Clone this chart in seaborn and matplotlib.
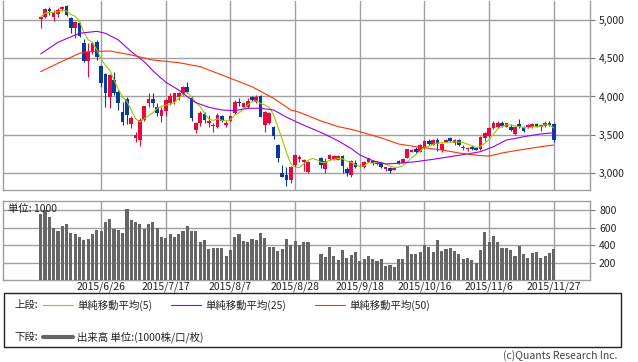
import numpy as np
import pandas as pd
import seaborn as sns
import matplotlib.pyplot as plt
from matplotlib.patches import Rectangle
from matplotlib.lines import Line2D

nan = np.nan

# 日足 OHLC (index 0..119, 63-64 欠損)
opens = [5013, 5043, 5144, 5043, 5078, 5140, 5183, 5022, 4891, 4957,
         4695, 4468, 4586, 4717, 4399, 4294, 3998, 4216, 4063, 3802,
         3964, 3641, 3454, 3432, 3693, 3911, 3964, 3867, 3745, 3815,
         3920, 3933, 3990, 4042, 4128, 3976, 3562, 3650, 3771, 3650,
         3615, 3606, 3745, 3628, 3684, 3780, 3933, 3867, 3859, 3989,
         3933, 4007, 3628, 3650, 3606, 3366, 2996, 2974, 2909, 3105,
         3179, 3148, 3018, nan, nan, 3190, 3048, 3179, 3179, 3170,
         3222, 3048, 2974, 3135, 3100, 3075, 3148, 3160, 3120, 3135,
         3050, 3070, 3045, 3157, 3135, 3200, 3279, 3310, 3279, 3345,
         3418, 3366, 3431, 3301, 3410, 3453, 3388, 3431, 3330, 3310,
         3336, 3323, 3314, 3455, 3488, 3585, 3606, 3650, 3606, 3606,
         3510, 3640, 3597, 3597, 3606, 3640, 3606, 3615, 3650, 3640]
highs = [5052, 5160, 5166, 5130, 5152, 5187, 5190, 5043, 4991, 4974,
         4748, 4695, 4710, 4739, 4412, 4303, 4294, 4324, 4085, 3933,
         3998, 3745, 3540, 3715, 3880, 4042, 4042, 3911, 3867, 3964,
         4042, 4050, 4063, 4143, 4194, 4003, 3671, 3811, 3802, 3763,
         3650, 3780, 3763, 3684, 3763, 3955, 3976, 3933, 3976, 4000,
         4020, 4020, 3811, 3800, 3615, 3375, 3105, 3083, 3092, 3249,
         3236, 3179, 3160, nan, nan, 3215, 3196, 3245, 3230, 3230,
         3240, 3074, 3170, 3175, 3120, 3160, 3200, 3175, 3160, 3150,
         3085, 3080, 3070, 3170, 3190, 3320, 3320, 3340, 3380, 3430,
         3450, 3440, 3460, 3390, 3440, 3470, 3440, 3440, 3370, 3340,
         3370, 3340, 3480, 3540, 3600, 3680, 3680, 3680, 3660, 3640,
         3615, 3700, 3620, 3640, 3660, 3660, 3640, 3680, 3680, 3660]
lows = [4895, 5022, 5065, 4990, 5043, 5122, 5052, 4834, 4770, 4774,
        4455, 4259, 4560, 4477, 4128, 3867, 3846, 4020, 3820, 3628,
        3640, 3585, 3410, 3353, 3680, 3867, 3867, 3745, 3671, 3750,
        3889, 3900, 3960, 4020, 4042, 3676, 3527, 3611, 3650, 3606,
        3540, 3584, 3671, 3606, 3671, 3771, 3876, 3867, 3850, 3940,
        3911, 3730, 3540, 3640, 3440, 3148, 2944, 2830, 2865, 3083,
        3148, 3031, 3000, nan, nan, 3060, 2996, 3170, 3170, 3165,
        3000, 2960, 2950, 3060, 3080, 3060, 3140, 3110, 3100, 3060,
        3030, 3000, 3035, 3120, 3125, 3190, 3270, 3260, 3270, 3330,
        3360, 3360, 3290, 3270, 3400, 3400, 3360, 3350, 3300, 3290,
        3300, 3295, 3300, 3420, 3470, 3570, 3590, 3600, 3600, 3550,
        3500, 3590, 3540, 3590, 3590, 3600, 3555, 3600, 3620, 3410]
closes = [5039, 5140, 5114, 5100, 5130, 5174, 5065, 4891, 4978, 4791,
          4468, 4586, 4695, 4520, 4180, 4050, 4281, 4050, 3911, 3671,
          3759, 3715, 3497, 3693, 3876, 3964, 3911, 3780, 3824, 3955,
          4007, 4042, 4042, 4120, 4063, 3715, 3658, 3780, 3693, 3680,
          3628, 3759, 3684, 3658, 3745, 3933, 3911, 3911, 3946, 3954,
          3998, 3737, 3802, 3789, 3484, 3192, 2952, 2909, 3074, 3236,
          3205, 3170, 3148, nan, nan, 3100, 3160, 3235, 3222, 3222,
          3092, 2996, 3160, 3075, 3100, 3148, 3190, 3130, 3140, 3075,
          3075, 3026, 3060, 3135, 3180, 3310, 3305, 3279, 3366, 3418,
          3375, 3431, 3375, 3375, 3431, 3418, 3431, 3366, 3345, 3325,
          3314, 3301, 3467, 3527, 3585, 3650, 3650, 3615, 3650, 3562,
          3606, 3597, 3553, 3627, 3640, 3606, 3627, 3650, 3627, 3431]
volumes = [760, 805, 730, 595, 560, 625, 640, 545, 535, 500,
           455, 470, 535, 570, 560, 670, 705, 590, 580, 545,
           820, 695, 670, 650, 585, 640, 670, 600, 490, 480,
           535, 500, 525, 560, 625, 560, 560, 435, 455, 360,
           365, 365, 365, 275, 345, 500, 535, 445, 435, 470,
           455, 545, 480, 385, 375, 330, 355, 470, 400, 445,
           400, 435, 435, nan, nan, 300, 265, 380, 275, 230,
           345, 250, 285, 320, 215, 240, 275, 240, 215, 240,
           160, 170, 150, 240, 240, 395, 300, 300, 320, 400,
           380, 320, 460, 335, 355, 365, 335, 300, 240, 250,
           230, 200, 345, 550, 435, 505, 435, 370, 370, 345,
           275, 395, 300, 250, 310, 320, 250, 275, 310, 355]

# 移動平均線（25日・50日）の読み取り値
ma25_idx = [0, 4, 9, 13, 15, 18, 21, 24, 26, 29, 32, 34, 36, 39, 42, 45, 48, 51,
            54, 57, 60, 65, 69, 72, 74, 77, 80, 83, 87, 91, 95, 99, 102, 105, 108,
            113, 116, 119]
ma25_val = [4556, 4709, 4826, 4852, 4826, 4739, 4586, 4455, 4337, 4186, 4085, 3998,
            3919, 3859, 3824, 3815, 3846, 3846, 3824, 3730, 3650, 3530, 3420, 3320,
            3236, 3161, 3118, 3127, 3148, 3179, 3214, 3249, 3279, 3344, 3431, 3484,
            3510, 3527]
ma50_idx = [0, 4, 9, 11, 16, 21, 26, 32, 37, 44, 49, 54, 58, 60, 65, 69, 72, 74,
            79, 83, 87, 93, 97, 102, 104, 107, 111, 116, 119]
ma50_val = [4325, 4434, 4565, 4586, 4595, 4543, 4477, 4442, 4390, 4238, 4128, 3977,
            3824, 3794, 3680, 3606, 3571, 3540, 3458, 3379, 3344, 3301, 3262, 3227,
            3222, 3262, 3301, 3344, 3366]

tick_idx = [14, 29, 44, 59, 74, 89, 104, 119]
tick_labels = ["2015/6/26", "2015/7/17", "2015/8/7", "2015/8/28",
               "2015/9/18", "2015/10/16", "2015/11/6", "2015/11/27"]

UP = '#E8083E'
DOWN = '#0A3A9C'
C_MA5 = '#99CC00'
C_MA25 = '#9900EE'
C_MA50 = '#FF3300'
GRID = '#A0A0A0'

sns.set_style('white')
plt.rcParams['font.family'] = ['Noto Sans CJK JP', 'DejaVu Sans']

df = pd.DataFrame({'open': opens, 'high': highs, 'low': lows,
                   'close': closes, 'volume': volumes})
df['idx'] = np.arange(len(df))
df['ma5'] = df['close'].rolling(5, min_periods=1).mean()
valid = df.dropna(subset=['open'])
colors = np.where(valid['close'] >= valid['open'], UP, DOWN)

W, H = 638, 362
fig = plt.figure(figsize=(W / 100, H / 100), dpi=100)
ax = fig.add_axes([3 / W, 1 - 190 / H, 587 / W, 189 / H])
axv = fig.add_axes([3 / W, 1 - 280 / H, 587 / W, 79 / H])

xlim = (-8.75, 127.4)

# 上段: ローソク足
ax.vlines(valid['idx'], valid['low'], valid['high'], colors=colors, lw=0.8, zorder=3)
body = np.maximum((valid['close'] - valid['open']).abs(), 8)
ax.bar(valid['idx'], body, bottom=np.minimum(valid['open'], valid['close']),
       width=0.85, color=colors, linewidth=0, zorder=3)
sns.lineplot(x=df['idx'], y=df['ma5'], ax=ax, color=C_MA5, lw=0.8, zorder=4)
sns.lineplot(x=ma25_idx, y=ma25_val, ax=ax, color=C_MA25, lw=0.8, zorder=4)
sns.lineplot(x=ma50_idx, y=ma50_val, ax=ax, color=C_MA50, lw=0.8, zorder=4)

ax.set_xlim(xlim)
ax.set_ylim(2778, 5248)
ax.set_xticks(tick_idx)
ax.set_xticklabels([])
ax.set_yticks([3000, 3500, 4000, 4500, 5000])
ax.set_yticklabels([f"{v:,}" for v in [3000, 3500, 4000, 4500, 5000]])
ax.yaxis.tick_right()
ax.set_xlabel('')
ax.set_ylabel('')

# 下段: 出来高
axv.bar(df['idx'], df['volume'], width=0.72, color='#666666', linewidth=0, zorder=3)
axv.set_xlim(xlim)
axv.set_ylim(0, 909)
axv.set_yticks([200, 400, 600, 800])
axv.set_yticklabels(['200', '400', '600', '800'])
axv.yaxis.tick_right()
axv.set_xticks(tick_idx)
axv.set_xticklabels(tick_labels)

for a in (ax, axv):
    a.grid(True, color=GRID, lw=1, zorder=0)
    a.set_axisbelow(True)
    for s in a.spines.values():
        s.set_color(GRID)
        s.set_linewidth(1)
    a.tick_params(axis='y', right=True, length=3.5, width=0.8, color='#777777',
                  pad=3, labelsize=7.5, labelcolor='#222222')
    a.tick_params(axis='x', length=0, pad=1, labelsize=7.5, labelcolor='#222222')
ax.spines['top'].set_visible(False)

fig.text(8 / W, 1 - 209 / H, '単位: 1000', fontsize=7.5, color='#222222', va='center')

# 凡例
fig.add_artist(Rectangle((4 / W, 1 - 347 / H), 617 / W, 54 / H, transform=fig.transFigure,
                         fill=False, edgecolor='#222222', lw=1))
y1 = 1 - 305 / H
y2 = 1 - 337 / H
fig.text(14 / W, y1, '上段:', fontsize=7.5, va='center', color='#222222')
items = [(43, C_MA5, '単純移動平均(5)'), (171, C_MA25, '単純移動平均(25)'),
         (315, C_MA50, '単純移動平均(50)')]
for x0, c, lab in items:
    fig.add_artist(Line2D([x0 / W, (x0 + 30) / W], [y1, y1], color=c, lw=0.8,
                          transform=fig.transFigure))
    fig.text((x0 + 34) / W, y1, lab, fontsize=7.5, va='center', color='#222222')
fig.text(14 / W, y2, '下段:', fontsize=7.5, va='center', color='#222222')
fig.add_artist(Line2D([43 / W, 73 / W], [y2, y2], color='#666666', lw=3,
                      transform=fig.transFigure))
fig.text(77 / W, y2, '出来高 単位:(1000株/口/枚)', fontsize=7.5, va='center', color='#222222')
fig.text(617 / W, 1 - 356 / H, '(c)Quants Research Inc.', fontsize=7.5, ha='right',
         va='center', color='#444444')

fig.savefig('out.png', dpi=100)
